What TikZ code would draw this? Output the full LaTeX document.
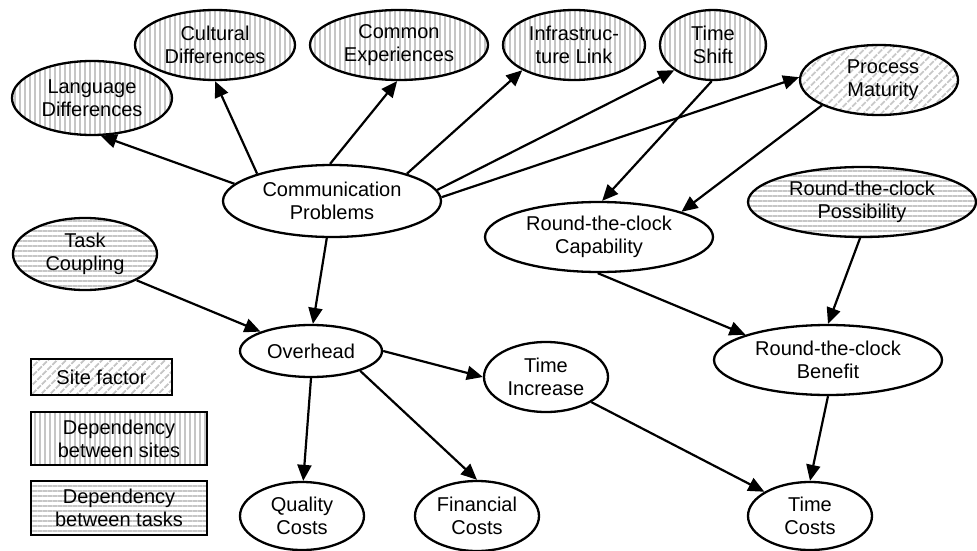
\documentclass[tikz,border=0pt]{standalone}
\usepackage{fontspec}
\setmainfont{Liberation Sans}
\usetikzlibrary{shapes.geometric,arrows.meta,patterns.meta}
\begin{document}
\begin{tikzpicture}[x=1pt,y=-1pt,
  every node/.style={font=\fontsize{20}{23}\selectfont, align=center, inner sep=0pt},
  ell/.style={ellipse, draw, line width=2.3pt, fill=white},
  vstripe/.style={ell, pattern={Lines[angle=90,distance=5pt,line width=1.8pt]}, pattern color=gray!45},
  hstripe/.style={ell, pattern={Lines[angle=0,distance=5pt,line width=1.8pt]}, pattern color=gray!45},
  dstripe/.style={ell, pattern={Lines[angle=45,distance=6.5pt,line width=2.2pt]}, pattern color=gray!45},
  arr/.style={line width=2.2pt, -{Triangle[length=16pt,width=14pt]}},
  legbox/.style={draw, line width=2.3pt}
]
\useasboundingbox (0,0) rectangle (977,551);
% site-dependency nodes
\node[vstripe, minimum width=160pt, minimum height=74pt] (ld) at (92,98) {Language\\Differences};
\node[vstripe, minimum width=160pt, minimum height=70pt] (cd) at (215,45) {Cultural\\Differences};
\node[vstripe, minimum width=178pt, minimum height=70pt] (ce) at (399,45) {Common\\Experiences};
\node[vstripe, minimum width=142pt, minimum height=70pt] (il) at (574,45) {Infrastruc-\\ture Link};
\node[vstripe, minimum width=106pt, minimum height=70pt] (ts) at (713,45) {Time\\Shift};
\node[dstripe, minimum width=158pt, minimum height=70pt] (pm) at (879,80) {\hspace*{8pt}Process\\\hspace*{8pt}Maturity};
\node[ell, minimum width=218pt, minimum height=72pt] (cp) at (332,201) {Communication\\Problems};
\node[ell, minimum width=228pt, minimum height=70pt] (cap) at (599,237) {Round-the-clock\\Capability};
\node[hstripe, minimum width=228pt, minimum height=70pt] (poss) at (862,202) {Round-the-clock\\Possibility};
\node[hstripe, minimum width=144pt, minimum height=72pt] (tc) at (85,254) {Task\\Coupling};
\node[ell, minimum width=142pt, minimum height=52pt] (oh) at (311,351) {Overhead};
\node[ell, minimum width=124pt, minimum height=70pt] (ti) at (546,377) {Time\\Increase};
\node[ell, minimum width=228pt, minimum height=70pt] (ben) at (828,360) {Round-the-clock\\Benefit};
\node[ell, minimum width=124pt, minimum height=68pt] (tco) at (810,516) {Time\\Costs};
\node[ell, minimum width=124pt, minimum height=68pt] (qc) at (302,516) {Quality\\Costs};
\node[ell, minimum width=124pt, minimum height=70pt] (fc) at (477,516) {Financial\\Costs};
% legend
\node[legbox, pattern={Lines[angle=45,distance=6.5pt,line width=2.2pt]}, pattern color=gray!45, minimum width=141pt, minimum height=36pt] (lg1) at (101.5,377) {Site factor};
\node[legbox, pattern={Lines[angle=90,distance=5pt,line width=1.8pt]}, pattern color=gray!45, minimum width=176pt, minimum height=53pt] (lg2) at (119,438.5) {Dependency\\between sites};
\node[legbox, pattern={Lines[angle=0,distance=5pt,line width=1.8pt]}, pattern color=gray!45, minimum width=176pt, minimum height=54pt] (lg3) at (119,508) {Dependency\\between tasks};
% edges
\draw[arr] (cp.170) -- (ld.283);
\draw[arr] (cp.160) -- (cd.270);
\draw[arr] (cp.93) -- (ce.267);
\draw[arr] (cp.20) -- (il.206);
\draw[arr] (cp.6) -- (ts.213);
\draw[arr] (cp.2) -- (pm.178);
\draw[arr] (cp.262) -- (oh.86);
\draw[arr] (ts.268) -- (cap.85);
\draw[arr] (pm.204) -- (cap.17);
\draw[arr] (poss.267) -- (ben.90);
\draw[arr] (cap.268) -- (ben.163);
\draw[arr] (tc.333) -- (oh.159);
\draw[arr] (oh.0) -- (ti.180);
\draw[arr] (oh.270) -- (qc.88);
\draw[arr] (oh.338) -- (fc.90);
\draw[arr] (ti.331) -- (tco.152);
\draw[arr] (ben.270) -- (tco.90);
\end{tikzpicture}
\end{document}
